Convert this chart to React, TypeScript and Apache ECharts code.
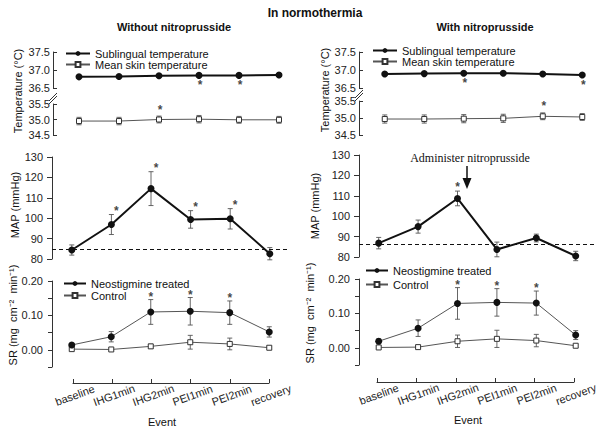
import React, { useEffect, useRef } from 'react';
import * as echarts from 'echarts';

const events = ['baseline', 'IHG1min', 'IHG2min', 'PEI1min', 'PEI2min', 'recovery'];

// ---- Without nitroprusside (left column) ----
const sublingualL = [36.81, 36.82, 36.84, 36.85, 36.85, 36.86];
const sublingualErrL = [0.02, 0.02, 0.02, 0.02, 0.02, 0.02];
const skinL = [34.95, 34.95, 35.0, 35.01, 34.99, 34.99];
const skinErrL = [0.12, 0.12, 0.11, 0.12, 0.11, 0.11];
const mapL = [84.4, 96.9, 114.5, 99.4, 99.7, 82.6];
const mapErrL = [2.5, 4.9, 8.3, 4.3, 5.0, 3.0];
const mapBaselineL = 84.8;
const srNeoL = [0.014, 0.038, 0.11, 0.112, 0.108, 0.052];
const srNeoErrL = [0.005, 0.015, 0.036, 0.04, 0.034, 0.015];
const srCtrlL = [0.002, 0.001, 0.01, 0.022, 0.017, 0.006];
const srCtrlErrL = [0.003, 0.002, 0.006, 0.02, 0.017, 0.004];
const sublingualStarsL = [3, 4];
const skinStarsL = [2];
const mapStarsL = [1, 2, 3, 4];
const srStarsL = [2, 3, 4];

// ---- With nitroprusside (right column) ----
const sublingualR = [36.89, 36.9, 36.91, 36.91, 36.89, 36.86];
const sublingualErrR = [0.02, 0.02, 0.02, 0.02, 0.02, 0.02];
const skinR = [34.97, 34.97, 34.98, 34.99, 35.05, 35.03];
const skinErrR = [0.12, 0.12, 0.12, 0.12, 0.1, 0.1];
const mapR = [86.8, 94.9, 108.7, 83.7, 89.3, 80.5];
const mapErrR = [2.8, 3.2, 3.6, 3.6, 1.9, 2.3];
const mapBaselineR = 86.4;
const srNeoR = [0.019, 0.057, 0.129, 0.132, 0.13, 0.037];
const srNeoErrR = [0.007, 0.024, 0.046, 0.04, 0.035, 0.013];
const srCtrlR = [0.001, 0.002, 0.019, 0.026, 0.021, 0.006];
const srCtrlErrR = [0.002, 0.002, 0.018, 0.025, 0.018, 0.004];
const sublingualStarsR = [2, 5];
const skinStarsR = [4];
const mapStarsR = [2];
const srStarsR = [2, 3, 4];

const FONT = 'Liberation Sans, Arial, sans-serif';
const INK = '#111';
const GREY = '#555';

function buildOption() {
  const grids: any[] = [];
  const xAxes: any[] = [];
  const yAxes: any[] = [];
  const series: any[] = [];
  const legends: any[] = [];

  const addGrid = (g: any, x: any, y: any) => {
    const i = grids.length;
    grids.push({ ...g, containLabel: false });
    xAxes.push({ ...x, gridIndex: i });
    yAxes.push({ ...y, gridIndex: i });
    return i;
  };

  const hiddenX = { type: 'category', data: events, boundaryGap: true, show: false };
  const baseY = (extra: any) => ({
    type: 'value',
    axisLine: { show: true, lineStyle: { color: '#333', width: 1 } },
    axisTick: { show: true, length: 4, lineStyle: { color: '#333' } },
    axisLabel: { fontSize: 11, color: '#222', fontFamily: FONT },
    splitLine: { show: false },
    ...extra,
  });

  const errSeries = (gi: number, means: number[], errs: number[], color: string) => ({
    type: 'custom',
    xAxisIndex: gi,
    yAxisIndex: gi,
    z: 1,
    silent: true,
    data: means.map((m, i) => [i, m, errs[i]]),
    encode: { x: 0, y: 1 },
    renderItem: (_p: any, api: any) => {
      const i = api.value(0);
      const m = api.value(1);
      const e = api.value(2);
      const t = api.coord([i, m + e]);
      const b = api.coord([i, m - e]);
      const w = 2.5;
      const st = { stroke: color, lineWidth: 0.9 };
      return {
        type: 'group',
        children: [
          { type: 'line', shape: { x1: t[0], y1: t[1], x2: b[0], y2: b[1] }, style: st },
          { type: 'line', shape: { x1: t[0] - w, y1: t[1], x2: t[0] + w, y2: t[1] }, style: st },
          { type: 'line', shape: { x1: b[0] - w, y1: b[1], x2: b[0] + w, y2: b[1] }, style: st },
        ],
      };
    },
  });

  const filledLine = (gi: number, name: string, data: number[], lineColor: string, lineWidth: number) => ({
    type: 'line',
    name,
    xAxisIndex: gi,
    yAxisIndex: gi,
    data,
    symbol: 'circle',
    symbolSize: 7,
    z: 3,
    lineStyle: { color: lineColor, width: lineWidth },
    itemStyle: { color: INK },
  });

  const openLine = (gi: number, name: string, data: number[]) => ({
    type: 'line',
    name,
    xAxisIndex: gi,
    yAxisIndex: gi,
    data,
    symbol: 'rect',
    symbolSize: 5,
    z: 3,
    lineStyle: { color: GREY, width: 1 },
    itemStyle: { color: '#fff', borderColor: '#333', borderWidth: 1 },
  });

  const starSeries = (gi: number, idxs: number[], ys: number[], dx: number, dy: number) => ({
    type: 'scatter',
    xAxisIndex: gi,
    yAxisIndex: gi,
    silent: true,
    z: 5,
    symbolSize: 1,
    itemStyle: { color: 'rgba(0,0,0,0)' },
    data: idxs.map((i) => [i, ys[i]]),
    label: {
      show: true,
      position: 'inside',
      formatter: '*',
      offset: [dx, dy],
      fontSize: 12,
      fontWeight: 'bold',
      color: INK,
      fontFamily: FONT,
    },
  });

  const cols = [
    {
      temp: { left: 59, width: 240, upTop: 52, upH: 36, lowTop: 104, lowH: 31 },
      map: { left: 52, width: 237.6, top: 157, height: 102 },
      sr: { left: 52, width: 237, top: 281, height: 86 },
      ev: { left: 73, width: 196, top: 380, height: 3 },
      data: {
        sub: sublingualL, subErr: sublingualErrL, skin: skinL, skinErr: skinErrL,
        map: mapL, mapErr: mapErrL, mapBase: mapBaselineL,
        neo: srNeoL, neoErr: srNeoErrL, ctrl: srCtrlL, ctrlErr: srCtrlErrL,
        subStars: sublingualStarsL, skinStars: skinStarsL, mapStars: mapStarsL, srStars: srStarsL,
      },
      mapStarDx: 5,
      tempLegend: { left: 65, top: 48, itemGap: 0 },
      srLegend: { left: 63, top: 278, itemGap: 1 },
    },
    {
      temp: { left: 365, width: 237, upTop: 52, upH: 36, lowTop: 101, lowH: 34 },
      map: { left: 359, width: 236.4, top: 155, height: 102 },
      sr: { left: 359, width: 236.4, top: 279, height: 86 },
      ev: { left: 377, width: 197, top: 379, height: 3 },
      data: {
        sub: sublingualR, subErr: sublingualErrR, skin: skinR, skinErr: skinErrR,
        map: mapR, mapErr: mapErrR, mapBase: mapBaselineR,
        neo: srNeoR, neoErr: srNeoErrR, ctrl: srCtrlR, ctrlErr: srCtrlErrR,
        subStars: sublingualStarsR, skinStars: skinStarsR, mapStars: mapStarsR, srStars: srStarsR,
      },
      mapStarDx: 0,
      tempLegend: { left: 372, top: 45, itemGap: 0 },
      srLegend: { left: 365, top: 265, itemGap: 3 },
    },
  ];

  const tempLabel = {
    fontSize: 11, color: '#222', fontFamily: FONT, margin: 3,
    formatter: (v: number) => v.toFixed(1),
  };

  cols.forEach((c) => {
    const d = c.data;
    const gUp = addGrid(
      { left: c.temp.left, top: c.temp.upTop, width: c.temp.width, height: c.temp.upH },
      hiddenX,
      baseY({ min: 36.5, max: 37.5, interval: 0.5, offset: 6, axisTick: { show: true, inside: true, length: 4, lineStyle: { color: '#333' } }, axisLabel: tempLabel })
    );
    const gLow = addGrid(
      { left: c.temp.left, top: c.temp.lowTop, width: c.temp.width, height: c.temp.lowH },
      hiddenX,
      baseY({ min: 34.5, max: 35.5, interval: 0.5, offset: 6, axisTick: { show: true, inside: true, length: 4, lineStyle: { color: '#333' } }, axisLabel: tempLabel })
    );
    series.push(errSeries(gUp, d.sub, d.subErr, GREY));
    series.push(filledLine(gUp, 'Sublingual temperature', d.sub, INK, 2));
    series.push(starSeries(gUp, d.subStars, d.sub, 1, 10));
    series.push(errSeries(gLow, d.skin, d.skinErr, GREY));
    series.push(openLine(gLow, 'Mean skin temperature', d.skin));
    series.push(starSeries(gLow, d.skinStars, d.skin, 1, -10));

    const gMap = addGrid(
      { left: c.map.left, top: c.map.top, width: c.map.width, height: c.map.height },
      hiddenX,
      baseY({ min: 80, max: 130, interval: 10, axisTick: { show: true, length: 5, lineStyle: { color: '#333' } }, axisLabel: { fontSize: 11, color: '#222', fontFamily: FONT, margin: 9 } })
    );
    series.push(errSeries(gMap, d.map, d.mapErr, GREY));
    series.push({
      ...filledLine(gMap, 'MAP', d.map, INK, 2),
      markLine: {
        silent: true,
        symbol: 'none',
        label: { show: false },
        lineStyle: { color: INK, type: [4, 3], width: 1 },
        data: [{ yAxis: d.mapBase }],
      },
    });
    series.push(starSeries(gMap, d.mapStars, d.map.map((m, i) => m + d.mapErr[i]), c.mapStarDx, -4));

    const gSr = addGrid(
      { left: c.sr.left, top: c.sr.top, width: c.sr.width, height: c.sr.height },
      hiddenX,
      baseY({
        min: -0.05, max: 0.2, interval: 0.05,
        axisTick: { show: true, length: 4, lineStyle: { color: '#333' } },
        axisLabel: {
          fontSize: 11, color: '#222', fontFamily: FONT, margin: 9,
          formatter: (v: number) => {
            const t = v * 10;
            return v > -1e-9 && Math.abs(t - Math.round(t)) < 1e-6 ? Math.abs(v).toFixed(2) : '';
          },
        },
      })
    );
    series.push(errSeries(gSr, d.ctrl, d.ctrlErr, GREY));
    series.push(errSeries(gSr, d.neo, d.neoErr, GREY));
    series.push(openLine(gSr, 'Control', d.ctrl));
    series.push(filledLine(gSr, 'Neostigmine treated', d.neo, GREY, 1));
    series.push(starSeries(gSr, d.srStars, d.neo.map((m, i) => m + d.neoErr[i]), 0, -3));

    addGrid(
      { left: c.ev.left, top: c.ev.top, width: c.ev.width, height: c.ev.height },
      {
        type: 'category', data: events, boundaryGap: false, position: 'bottom',
        axisLine: { show: true, lineStyle: { color: '#333', width: 1 } },
        axisTick: { show: true, inside: true, length: 4, alignWithLabel: true, lineStyle: { color: '#333' } },
        axisLabel: { rotate: 20, align: 'center', verticalAlign: 'top', margin: 7, interval: 0, fontSize: 11, color: '#222', fontFamily: FONT },
      },
      { type: 'value', show: false, min: 0, max: 1 }
    );

    legends.push({
      orient: 'vertical', left: c.tempLegend.left, top: c.tempLegend.top, padding: 0,
      itemGap: c.tempLegend.itemGap, itemWidth: 24, itemHeight: 6,
      selectedMode: false,
      textStyle: { fontSize: 11, color: '#111', fontFamily: FONT, lineHeight: 11 },
      data: ['Sublingual temperature', 'Mean skin temperature'],
    });
    legends.push({
      orient: 'vertical', left: c.srLegend.left, top: c.srLegend.top, padding: 0,
      itemGap: c.srLegend.itemGap, itemWidth: 22, itemHeight: 6,
      selectedMode: false,
      textStyle: { fontSize: 11, color: '#111', fontFamily: FONT, lineHeight: 11 },
      data: [
        { name: 'Neostigmine treated', lineStyle: { color: INK, width: 2 } },
        'Control',
      ],
    });
  });

  const vText = (text: string, x: number, y: number) => ({
    type: 'text', x, y, rotation: Math.PI / 2,
    style: { text, fill: '#111', font: `11px ${FONT}`, align: 'center', verticalAlign: 'middle' },
  });
  const hText = (text: string, x: number, y: number, font: string) => ({
    type: 'text', x, y,
    style: { text, fill: '#111', font, align: 'center', verticalAlign: 'middle' },
  });
  const brk = (x: number, y: number) => [
    { type: 'line', shape: { x1: x - 4, y1: y + 4, x2: x + 4, y2: y - 4 }, style: { stroke: '#333', lineWidth: 1 } },
    { type: 'line', shape: { x1: x - 4, y1: y + 7, x2: x + 4, y2: y - 1 }, style: { stroke: '#333', lineWidth: 1 } },
  ];

  const graphic: any[] = [
    hText('In normothermia', 315, 13, `bold 12px ${FONT}`),
    hText('Without nitroprusside', 174, 27, `bold 11px ${FONT}`),
    hText('With nitroprusside', 485, 27, `bold 11px ${FONT}`),
    vText('Temperature (°C)', 18, 91),
    vText('MAP (mmHg)', 15, 205),
    vText('SR (mg  cm⁻²  min⁻¹)', 13, 315),
    vText('Temperature (°C)', 325, 90),
    vText('MAP (mmHg)', 315, 206),
    vText('SR (mg  cm⁻²  min⁻¹)', 310, 313),
    hText('Event', 162, 422, `11px ${FONT}`),
    hText('Event', 468, 420, `11px ${FONT}`),
    hText('Administer nitroprusside', 470, 158, `12px Liberation Serif, Times New Roman, serif`),
    { type: 'line', shape: { x1: 467, y1: 166, x2: 467, y2: 180 }, style: { stroke: '#111', lineWidth: 1.5 } },
    { type: 'polygon', shape: { points: [[462.5, 178], [471.5, 178], [467, 189]] }, style: { fill: '#111' } },
    ...brk(53, 97),
    ...brk(359, 94),
  ];

  return {
    animation: false,
    backgroundColor: '#fff',
    textStyle: { fontFamily: FONT },
    grid: grids,
    xAxis: xAxes,
    yAxis: yAxes,
    legend: legends,
    series,
    graphic,
  };
}

export default function App() {
  const ref = useRef<HTMLDivElement>(null);
  useEffect(() => {
    if (!ref.current) return;
    const chart = echarts.init(ref.current, undefined, { renderer: 'svg' });
    chart.setOption(buildOption() as any);
    return () => chart.dispose();
  }, []);
  return <div ref={ref} style={{ position: 'absolute', left: 0, top: 0, width: 602, height: 431 }} />;
}
